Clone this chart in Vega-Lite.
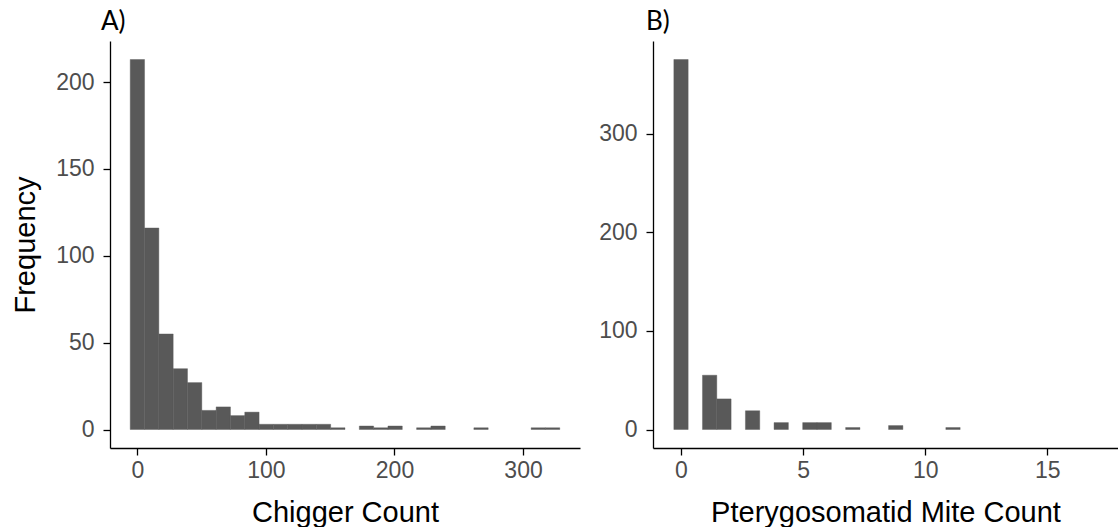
{
  "$schema": "https://vega.github.io/schema/vega-lite/v6.json",
  "padding": {"left": 11, "top": 9, "right": 0, "bottom": 0},
  "background": "white",
  "datasets": {
    "chigger": [
      {"bin_start": -5.569, "bin_end": 5.569, "count": 213},
      {"bin_start": 5.569, "bin_end": 16.707, "count": 116},
      {"bin_start": 16.707, "bin_end": 27.845, "count": 55},
      {"bin_start": 27.845, "bin_end": 38.983, "count": 35},
      {"bin_start": 38.983, "bin_end": 50.121, "count": 27},
      {"bin_start": 50.121, "bin_end": 61.259, "count": 11},
      {"bin_start": 61.259, "bin_end": 72.397, "count": 13},
      {"bin_start": 72.397, "bin_end": 83.535, "count": 8},
      {"bin_start": 83.535, "bin_end": 94.673, "count": 10},
      {"bin_start": 94.673, "bin_end": 105.811, "count": 3},
      {"bin_start": 105.811, "bin_end": 116.949, "count": 3},
      {"bin_start": 116.949, "bin_end": 128.087, "count": 3},
      {"bin_start": 128.087, "bin_end": 139.225, "count": 3},
      {"bin_start": 139.225, "bin_end": 150.363, "count": 3},
      {"bin_start": 150.363, "bin_end": 161.501, "count": 1},
      {"bin_start": 172.639, "bin_end": 183.777, "count": 2},
      {"bin_start": 183.777, "bin_end": 194.915, "count": 1},
      {"bin_start": 194.915, "bin_end": 206.053, "count": 2},
      {"bin_start": 217.191, "bin_end": 228.329, "count": 1},
      {"bin_start": 228.329, "bin_end": 239.467, "count": 2},
      {"bin_start": 261.743, "bin_end": 272.881, "count": 1},
      {"bin_start": 306.295, "bin_end": 317.433, "count": 1},
      {"bin_start": 317.433, "bin_end": 328.571, "count": 1}
    ],
    "ptery": [
      {"bin_start": -0.2931, "bin_end": 0.2931, "count": 375},
      {"bin_start": 0.8793, "bin_end": 1.4655, "count": 55},
      {"bin_start": 1.4655, "bin_end": 2.0517, "count": 31},
      {"bin_start": 2.6379, "bin_end": 3.2241, "count": 19},
      {"bin_start": 3.8103, "bin_end": 4.3966, "count": 7},
      {"bin_start": 4.9828, "bin_end": 5.569, "count": 7},
      {"bin_start": 5.569, "bin_end": 6.1552, "count": 7},
      {"bin_start": 6.7414, "bin_end": 7.3276, "count": 2},
      {"bin_start": 8.5, "bin_end": 9.0862, "count": 4},
      {"bin_start": 10.8448, "bin_end": 11.431, "count": 2}
    ]
  },
  "config": {
    "view": {"stroke": null},
    "concat": {"spacing": 73},
    "axis": {
      "grid": false,
      "domainColor": "#000000",
      "domainWidth": 1.3,
      "tickColor": "#000000",
      "tickWidth": 1.3,
      "tickSize": 7,
      "labelColor": "#4d4d4d",
      "labelFont": "Liberation Sans",
      "labelFontSize": 23,
      "titleFont": "Liberation Sans",
      "titleFontSize": 29,
      "titleFontWeight": "normal",
      "titleColor": "#000000"
    },
    "axisX": {"labelPadding": 4, "titlePadding": 16},
    "axisY": {"labelPadding": 9, "titlePadding": 15},
    "title": {"font": "Lato", "fontSize": 26, "fontWeight": "normal", "color": "#000000", "anchor": "start", "frame": "group", "offset": 6}
  },
  "bounds": "flush",
  "hconcat": [
    {
      "width": 470,
      "height": 407,
      "title": {"text": "A)", "dx": -9},
      "data": {"name": "chigger"},
      "mark": {"type": "rect", "color": "#595959", "stroke": "#595959", "strokeWidth": 0.4},
      "encoding": {
        "x": {"field": "bin_start", "type": "quantitative", "scale": {"domain": [-21.3, 344.3], "nice": false, "zero": false}, "axis": {"values": [0, 100, 200, 300], "title": "Chigger Count"}},
        "x2": {"field": "bin_end"},
        "y": {"field": "count", "type": "quantitative", "scale": {"domain": [-10.65, 223.65], "nice": false, "zero": false}, "axis": {"values": [0, 50, 100, 150, 200], "title": "Frequency"}},
        "y2": {"datum": 0}
      }
    },
    {
      "width": 465,
      "height": 407,
      "title": {"text": "B)", "dx": -7},
      "data": {"name": "ptery"},
      "mark": {"type": "rect", "color": "#595959", "stroke": "#595959", "strokeWidth": 0.4},
      "encoding": {
        "x": {"field": "bin_start", "type": "quantitative", "scale": {"domain": [-1.147, 17.895], "nice": false, "zero": false}, "axis": {"values": [0, 5, 10, 15], "title": "Pterygosomatid Mite Count"}},
        "x2": {"field": "bin_end"},
        "y": {"field": "count", "type": "quantitative", "scale": {"domain": [-18.75, 393.75], "nice": false, "zero": false}, "axis": {"values": [0, 100, 200, 300], "title": null}},
        "y2": {"datum": 0}
      }
    }
  ]
}
